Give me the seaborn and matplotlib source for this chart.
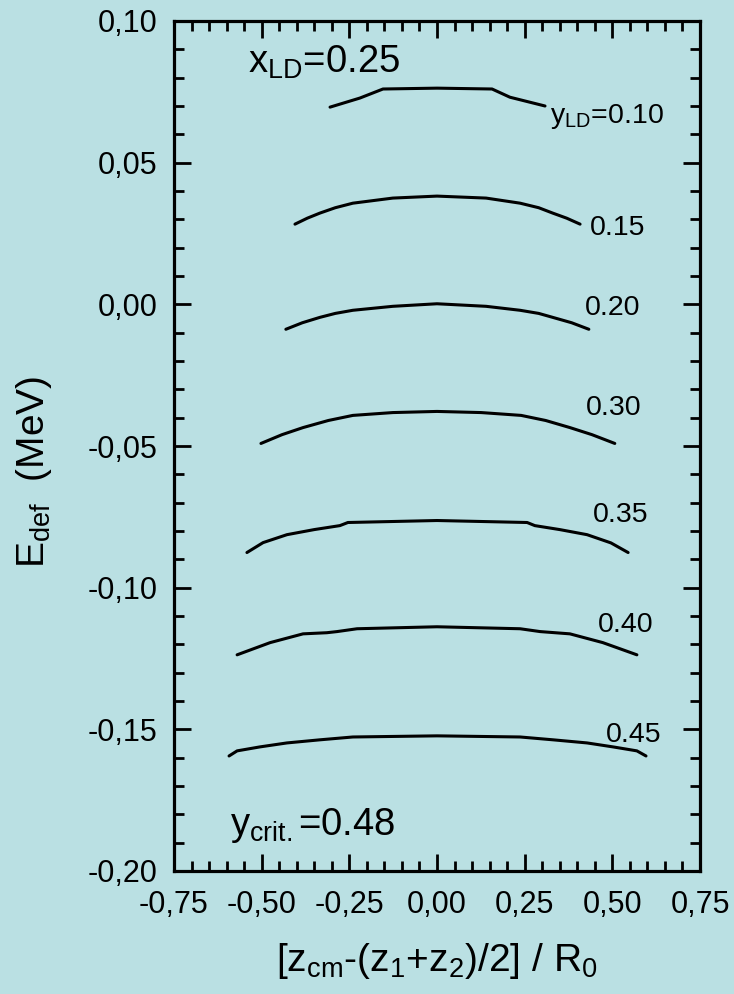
import numpy as np
import pandas as pd
import matplotlib
matplotlib.use("Agg")
import matplotlib.pyplot as plt
from matplotlib.ticker import MultipleLocator, FuncFormatter
import seaborn as sns

# ---------------- data ----------------
y_ld_values = ["0.10", "0.15", "0.20", "0.30", "0.35", "0.40", "0.45"]

x_010 = [-0.305, -0.220, -0.154, 0.000, 0.157, 0.208, 0.308]
e_010 = [0.0696, 0.0728, 0.0760, 0.0763, 0.0760, 0.0731, 0.0700]

x_015 = [-0.405, -0.370, -0.334, -0.290, -0.240, -0.126, 0.000, 0.140, 0.237, 0.290, 0.330, 0.370, 0.408]
e_015 = [0.0283, 0.0304, 0.0322, 0.0341, 0.0357, 0.0375, 0.0382, 0.0375, 0.0357, 0.0341, 0.0322, 0.0304, 0.0283]

x_020 = [-0.431, -0.384, -0.334, -0.290, -0.240, -0.126, 0.000, 0.140, 0.237, 0.290, 0.330, 0.384, 0.433]
e_020 = [-0.0088, -0.0065, -0.0046, -0.0032, -0.0021, -0.0007, 0.0002, -0.0007, -0.0021, -0.0032, -0.0046, -0.0065, -0.0088]

x_030 = [-0.502, -0.442, -0.382, -0.310, -0.240, -0.126, 0.000, 0.126, 0.240, 0.310, 0.379, 0.442, 0.507]
e_030 = [-0.0491, -0.0460, -0.0435, -0.0410, -0.0392, -0.0382, -0.0378, -0.0382, -0.0392, -0.0410, -0.0435, -0.0460, -0.0491]

x_035 = [-0.542, -0.496, -0.428, -0.350, -0.277, -0.254, 0.000, 0.257, 0.279, 0.350, 0.428, 0.496, 0.545]
e_035 = [-0.0876, -0.0841, -0.0813, -0.0795, -0.0781, -0.0770, -0.0763, -0.0770, -0.0781, -0.0795, -0.0813, -0.0842, -0.0876]

x_040 = [-0.570, -0.476, -0.382, -0.314, -0.285, -0.228, 0.000, 0.237, 0.294, 0.379, 0.473, 0.570]
e_040 = [-0.1237, -0.1194, -0.1163, -0.1159, -0.1155, -0.1145, -0.1138, -0.1145, -0.1155, -0.1163, -0.1194, -0.1237]

x_045 = [-0.593, -0.570, -0.505, -0.428, -0.334, -0.240, 0.000, 0.237, 0.331, 0.428, 0.502, 0.570, 0.596]
e_045 = [-0.1594, -0.1576, -0.1562, -0.1548, -0.1537, -0.1527, -0.1523, -0.1527, -0.1537, -0.1548, -0.1562, -0.1576, -0.1594]

curve_x = [x_010, x_015, x_020, x_030, x_035, x_040, x_045]
curve_e = [e_010, e_015, e_020, e_030, e_035, e_040, e_045]

label_texts = [r"y$_\mathregular{LD}$=0.10", "0.15", "0.20", "0.30", "0.35", "0.40", "0.45"]
label_x = [0.322, 0.436, 0.422, 0.425, 0.445, 0.459, 0.482]
label_y = [0.0640, 0.0244, -0.0039, -0.0392, -0.0770, -0.1155, -0.1545]

x_ticks = [-0.75, -0.50, -0.25, 0.00, 0.25, 0.50, 0.75]
y_ticks = [-0.20, -0.15, -0.10, -0.05, 0.00, 0.05, 0.10]

# ---------------- style ----------------
BG = "#BAE0E3"
sns.set_theme(style="ticks")
plt.rcParams["font.family"] = ["Liberation Sans", "DejaVu Sans"]
plt.rcParams["mathtext.fontset"] = "custom"
plt.rcParams["mathtext.rm"] = "Liberation Sans"
plt.rcParams["mathtext.it"] = "Liberation Sans:italic"
plt.rcParams["axes.unicode_minus"] = False

rows = []
for name, xs, es in zip(y_ld_values, curve_x, curve_e):
    for xv, ev in zip(xs, es):
        rows.append({"yld": name, "x": xv, "E": ev})
df = pd.DataFrame(rows)

fig = plt.figure(figsize=(7.34, 9.94), dpi=100, facecolor=BG)
ax = fig.add_axes([174 / 734, 1 - 871 / 994, 526 / 734, 850 / 994])
ax.set_facecolor(BG)

sns.lineplot(data=df, x="x", y="E", units="yld", estimator=None, sort=False,
             color="black", linewidth=2.2, ax=ax, legend=False)

ax.set_xlim(-0.75, 0.75)
ax.set_ylim(-0.20, 0.10)
ax.set_xticks(x_ticks)
ax.set_yticks(y_ticks)
ax.xaxis.set_minor_locator(MultipleLocator(0.05))
ax.yaxis.set_minor_locator(MultipleLocator(0.01))


def fmt(v, pos):
    if abs(v) < 1e-9:
        v = 0.0
    return f"{v:.2f}".replace(".", ",")


ax.xaxis.set_major_formatter(FuncFormatter(fmt))
ax.yaxis.set_major_formatter(FuncFormatter(fmt))

ax.tick_params(which="both", direction="in", top=True, right=True,
               width=2.0, color="black", labelcolor="black")
ax.tick_params(which="major", length=12, labelsize=22)
ax.tick_params(which="minor", length=7)
ax.tick_params(axis="x", which="major", pad=14)
ax.tick_params(axis="y", which="major", pad=12)
for sp in ax.spines.values():
    sp.set_linewidth(2.3)
    sp.set_color("black")

ax.set_xlabel(r"[z$_\mathregular{cm}$-(z$_\mathregular{1}$+z$_\mathregular{2}$)/2] / R$_\mathregular{0}$",
              fontsize=28, color="black")
ax.set_ylabel(r"E$_\mathregular{def}$  (MeV)", fontsize=28, color="black")
ax.xaxis.set_label_coords(0.5, -0.082)
ax.yaxis.set_label_coords(-0.228, 0.47)

for t, lx, ly in zip(label_texts, label_x, label_y):
    ax.text(lx, ly, t, fontsize=20.5, ha="left", va="baseline", color="black")

ax.text(-0.539, 0.0816, r"x$_\mathregular{LD}$=0.25", fontsize=27.5, ha="left",
        va="baseline", color="black")
ax.text(-0.590, -0.1873, r"y$_\mathregular{crit.}$=0.48", fontsize=27.5, ha="left",
        va="baseline", color="black")

fig.savefig("out.png", dpi=100, facecolor=BG)
